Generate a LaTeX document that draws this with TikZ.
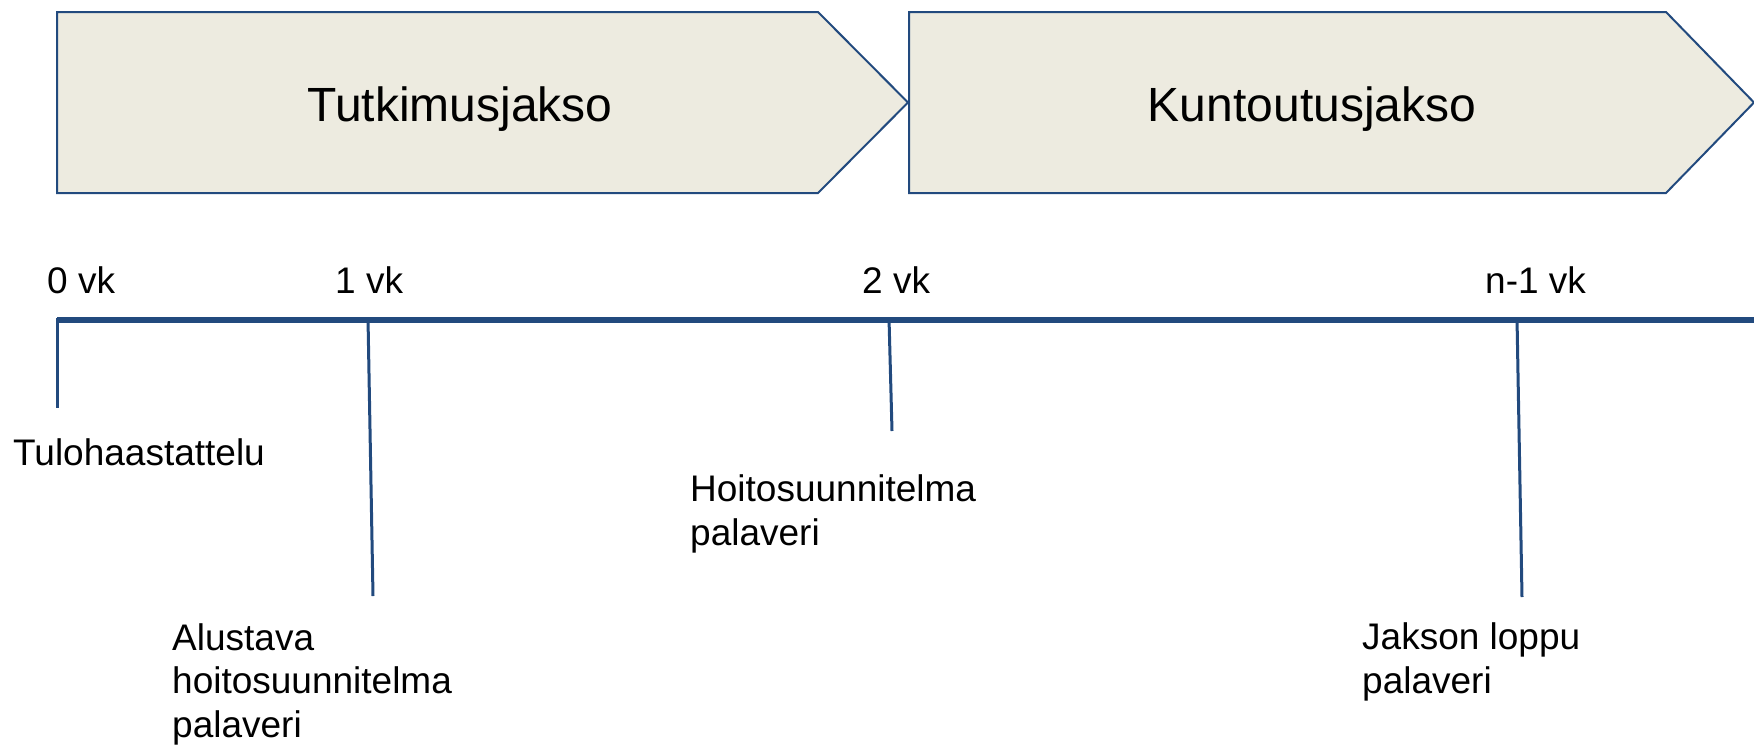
\documentclass[tikz,border=0pt]{standalone}
\usepackage{fontspec}
\setmainfont{Liberation Sans}
\definecolor{lineblue}{RGB}{34,74,126}
\definecolor{chevfill}{RGB}{237,235,224}
\tikzset{
  phase/.style={draw=lineblue, line width=2pt, fill=chevfill, line join=miter},
  phasetext/.style={font=\fontsize{48}{56}\selectfont, inner sep=0pt, anchor=base},
  axis/.style={draw=lineblue, line width=6.5pt},
  tick/.style={draw=lineblue, line width=3pt},
  weeklabel/.style={font=\fontsize{37}{44}\selectfont, inner sep=0pt, anchor=base west},
  eventlabel/.style={font=\fontsize{37}{43.5}\selectfont, inner sep=0pt, anchor=base west, align=left},
}
\begin{document}
\begin{tikzpicture}[x=1pt,y=-1pt]
\useasboundingbox (0,0) rectangle (1754,745);
% phases
\draw[phase] (57,12) -- (818,12) -- (908,102.5) -- (818,193) -- (57,193) -- cycle;
\draw[phase] (909,12) -- (1666,12) -- (1754,102.5) -- (1666,193) -- (909,193) -- cycle;
\node[phasetext] (p1) at (460,121) {Tutkimusjakso};
\node[phasetext] (p2) at (1312,121) {Kuntoutusjakso};
% axis
\coordinate (a0) at (57,320);
\coordinate (aend) at (1754,320);
\draw[axis] (a0) -- (aend);
% ticks
\coordinate (t0top) at (57,318);
\coordinate (t0bot) at (57,408);
\coordinate (t1top) at (368,318);
\coordinate (t1bot) at (373,596);
\coordinate (t2top) at (889,318);
\coordinate (t2bot) at (892,431);
\coordinate (t3top) at (1517,318);
\coordinate (t3bot) at (1522,597);
\draw[tick] (t0top) -- (t0bot);
\draw[tick] (t1top) -- (t1bot);
\draw[tick] (t2top) -- (t2bot);
\draw[tick] (t3top) -- (t3bot);
% week labels
\node[weeklabel] (w0) at (47,293) {0 vk};
\node[weeklabel] (w1) at (335,293) {1 vk};
\node[weeklabel] (w2) at (862,293) {2 vk};
\node[weeklabel] (w3) at (1485,293) {n-1 vk};
% event labels (base anchor = baseline of last line)
\node[eventlabel] (e0) at (13,465) {Tulohaastattelu};
\node[eventlabel] (e1) at (172,737) {Alustava\\hoitosuunnitelma\\palaveri};
\node[eventlabel] (e2) at (690,545) {Hoitosuunnitelma\\palaveri};
\node[eventlabel] (e3) at (1362,693) {Jakson loppu\\palaveri};
\end{tikzpicture}
\end{document}
